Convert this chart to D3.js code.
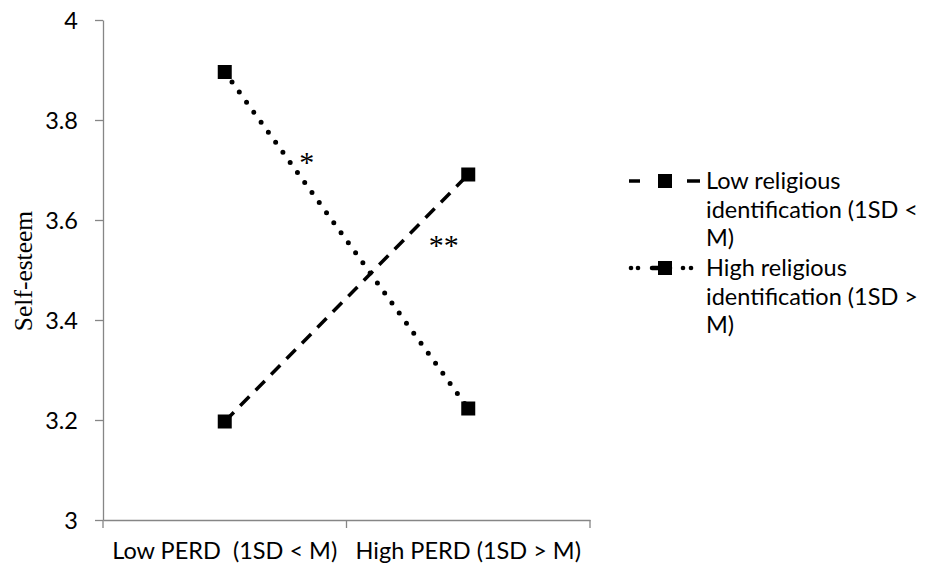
<!DOCTYPE html>
<html><head><meta charset="utf-8">
<script src="https://cdn.jsdelivr.net/npm/d3@7"></script>
<style>body{margin:0;background:#fff}</style>
</head><body>
<svg id="c" width="927" height="569"></svg>
<script>
const categories = ["Low PERD  (1SD < M)", "High PERD (1SD > M)"];
const seriesNames = [["Low religious", "identification (1SD <", "M)"], ["High religious", "identification (1SD >", "M)"]];
const lowReligious = [3.197, 3.691];
const highReligious = [3.896, 3.223];
const yTicks = [3, 3.2, 3.4, 3.6, 3.8, 4];
const yTickLabels = ["3", "3.2", "3.4", "3.6", "3.8", "4"];
const annotations = [{text: "*", cat: 0.337, val: 3.697}, {text: "**", cat: 0.899, val: 3.531}];

const svg = d3.select("#c");
const font = "Lato, 'Open Sans', sans-serif";
const fs = 23.5;
const serif = "'Liberation Serif', 'Times New Roman', serif";
const x0 = 103, x1 = 590, yTop = 20, yBot = 520;
const x = d3.scaleBand().domain([0,1]).range([x0, x1]);
const xc = i => x(0) + x.bandwidth()*(i+0.5);
const y = d3.scaleLinear().domain([3,4]).range([yBot, yTop]);
const axisColor = "#868686";

// y axis
const ya = svg.append("g").attr("transform", `translate(${x0},0)`)
  .call(d3.axisLeft(y).tickValues(yTicks).tickFormat((d,i)=>yTickLabels[i]).tickSize(8).tickSizeOuter(0));
ya.select(".domain").attr("stroke", axisColor).attr("stroke-width", 1.3);
ya.selectAll(".tick line").attr("stroke", axisColor).attr("stroke-width", 1.3);
ya.selectAll(".tick text").attr("x", -25).attr("dy", "0.36em").attr("font-family", font).attr("font-size", fs).attr("fill", "#000");

// x axis
const xa = svg.append("g").attr("transform", `translate(0,${yBot})`)
  .call(d3.axisBottom(x).tickValues([]).tickSizeOuter(0));
xa.select(".domain").attr("stroke", axisColor).attr("stroke-width", 1.3);
const xTickPos = [x0, x(1), x1];
xa.selectAll(".xt").data(xTickPos).join("line").attr("class","xt")
  .attr("x1", d=>d).attr("x2", d=>d).attr("y1", 0).attr("y2", 8)
  .attr("stroke", axisColor).attr("stroke-width", 1.3);
svg.selectAll(".xl").data(categories).join("text").attr("class","xl")
  .attr("x", (d,i)=>xc(i)).attr("y", 559).attr("text-anchor","middle")
  .attr("font-family", font).attr("font-size", fs).attr("fill","#000")
  .style("white-space","pre").text(d=>d);

// y label
svg.append("text").attr("transform", "translate(32,271) rotate(-90)")
  .attr("text-anchor","middle").attr("font-family", serif)
  .attr("font-size", 25.5).attr("fill","#000").text("Self-esteem");

const line = d3.line().x((d,i)=>xc(i)).y(d=>y(d));
const styles = [
  {data: lowReligious, dash: "13,9", width: 3.5, cap: "butt"},
  {data: highReligious, dash: "0,12.4", width: 5, cap: "round"}
];
styles.forEach(s => {
  svg.append("path").datum(s.data).attr("d", line).attr("fill","none")
    .attr("stroke","#000").attr("stroke-width", s.width)
    .attr("stroke-dasharray", s.dash).attr("stroke-linecap", s.cap);
  svg.selectAll(null).data(s.data).join("rect")
    .attr("x", (d,i)=>xc(i)-7).attr("y", d=>y(d)-7).attr("width",14).attr("height",14).attr("fill","#000");
});

annotations.forEach(a => {
  svg.append("text").attr("x", xc(0) + (xc(1)-xc(0))*a.cat).attr("y", y(a.val))
    .attr("text-anchor","middle").attr("font-family", serif).attr("font-size", 30).attr("fill","#000").text(a.text);
});

// legend
const lg = svg.append("g");
const legY = [181, 268];
styles.forEach((s, i) => {
  const yy = legY[i];
  if (i === 0) {
    lg.append("line").attr("x1",629).attr("x2",640).attr("y1",yy).attr("y2",yy).attr("stroke","#000").attr("stroke-width",3.5);
    lg.append("line").attr("x1",687).attr("x2",700).attr("y1",yy).attr("y2",yy).attr("stroke","#000").attr("stroke-width",3.5);
  } else {
    [631, 638, 683, 691].forEach(cx => lg.append("circle").attr("cx",cx).attr("cy",yy).attr("r",2.3).attr("fill","#000"));
    lg.append("line").attr("x1",652).attr("x2",670).attr("y1",yy).attr("y2",yy).attr("stroke","#000").attr("stroke-width",4.5).attr("stroke-linecap","round");
  }
  lg.append("rect").attr("x",658).attr("y",yy-7).attr("width",14).attr("height",14).attr("fill","#000");
  seriesNames[i].forEach((t, j) => {
    lg.append("text").attr("x",706).attr("y", yy + 8 + j*28.7)
      .attr("font-family", font).attr("font-size", fs).attr("fill","#000").text(t);
  });
});
</script>
</body></html>
